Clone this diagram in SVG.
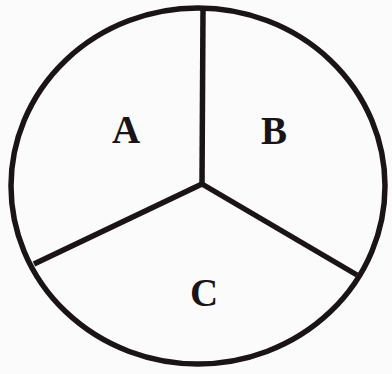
<svg xmlns="http://www.w3.org/2000/svg" width="392" height="374" viewBox="0 0 392 374">
<style>
.ln{fill:none;stroke:#1a1416;stroke-width:5.5;stroke-linecap:butt}
.lb{font-family:"Liberation Serif","Times New Roman",serif;font-size:39px;font-weight:bold;fill:#1a1416;text-anchor:middle}
</style>
<rect width="392" height="374" fill="#fbfbfb"/>
<g id="circle"><ellipse class="ln" cx="198" cy="186" rx="187" ry="178"/></g>
<g id="connectors">
<line class="ln" x1="203" y1="10" x2="202" y2="184"/>
<line class="ln" x1="202" y1="184" x2="34" y2="264"/>
<line class="ln" x1="202" y1="184" x2="357" y2="275"/>
</g>
<g id="A"><text class="lb" x="126" y="143">A</text></g>
<g id="B"><text class="lb" x="274" y="144">B</text></g>
<g id="C"><text class="lb" x="204" y="306">C</text></g>
</svg>
